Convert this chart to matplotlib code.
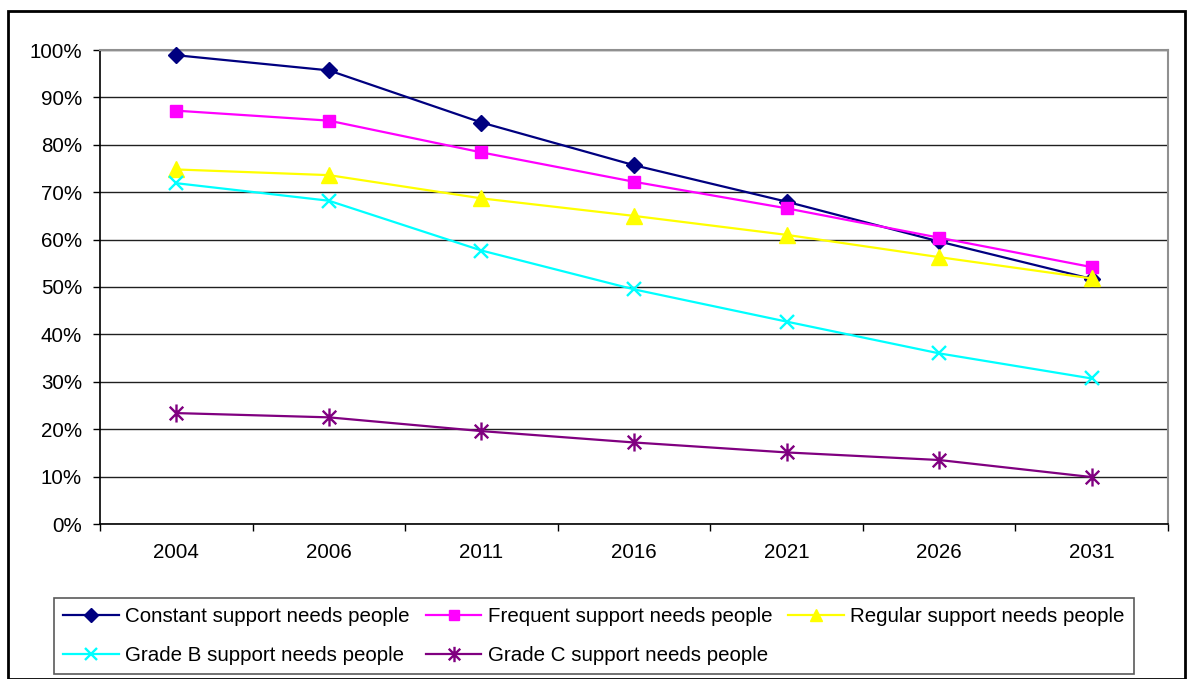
import matplotlib
matplotlib.use("Agg")
import matplotlib.pyplot as plt
from matplotlib.path import Path
from matplotlib.patches import Rectangle
from matplotlib.ticker import FixedLocator, PercentFormatter

plt.rcParams['font.family'] = ['Liberation Sans', 'DejaVu Sans']

years = ["2004", "2006", "2011", "2016", "2021", "2026", "2031"]
constant = [98.9, 95.7, 84.7, 75.7, 68.0, 59.6, 51.7]
frequent = [87.2, 85.1, 78.4, 72.2, 66.6, 60.4, 54.2]
regular = [74.8, 73.6, 68.7, 65.0, 61.0, 56.3, 51.8]
grade_b = [71.9, 68.2, 57.7, 49.5, 42.7, 36.0, 30.7]
grade_c = [23.4, 22.5, 19.6, 17.2, 15.1, 13.5, 9.9]
labels = ["Constant support needs people", "Frequent support needs people",
          "Regular support needs people", "Grade B support needs people",
          "Grade C support needs people"]

star = Path([(0, -1), (0, 1), (-0.75, -0.75), (0.75, 0.75), (-0.75, 0.75), (0.75, -0.75)],
            [Path.MOVETO, Path.LINETO, Path.MOVETO, Path.LINETO, Path.MOVETO, Path.LINETO])

W, H = 1191, 679
fig = plt.figure(figsize=(W / 100, H / 100), dpi=100)
ax = fig.add_axes([100 / W, 1 - 524 / H, (1168 - 100) / W, (524 - 50) / H])

x = list(range(len(years)))
styles = [
    (constant, "#000080", dict(marker="D", markersize=8.5)),
    (frequent, "#FF00FF", dict(marker="s", markersize=9)),
    (regular, "#FFFF00", dict(marker="^", markersize=11)),
    (grade_b, "#00FFFF", dict(marker="x", markersize=10.5, markeredgewidth=1.7)),
    (grade_c, "#800080", dict(marker=star, markersize=13, markeredgewidth=1.7)),
]
handles = []
for (vals, col, mk), lab in zip(styles, labels):
    h, = ax.plot(x, vals, color=col, lw=1.6, markerfacecolor=col,
                 markeredgecolor=col, label=lab, clip_on=False, zorder=3, **mk)
    handles.append(h)

ax.set_xlim(-0.5, len(years) - 0.5)
ax.set_ylim(0, 100)
ax.yaxis.set_major_locator(FixedLocator(range(0, 101, 10)))
ax.yaxis.set_major_formatter(PercentFormatter(decimals=0))
ax.xaxis.set_major_locator(FixedLocator([i - 0.5 for i in range(len(years) + 1)]))
ax.xaxis.set_major_formatter(plt.NullFormatter())
ax.xaxis.set_minor_locator(FixedLocator(x))
ax.set_xticklabels(years, minor=True)
ax.tick_params(axis='x', which='minor', length=0, pad=14, labelsize=14.8)
ax.tick_params(axis='x', which='major', length=5, direction='out', width=1)
ax.tick_params(axis='y', length=5, direction='out', width=1, pad=8, labelsize=14.8)

ax.grid(axis='y', color='#202020', lw=1)
ax.set_axisbelow(True)
for s in ['top', 'right']:
    ax.spines[s].set_color('#909090')
    ax.spines[s].set_linewidth(1.5)
for s in ['left', 'bottom']:
    ax.spines[s].set_color('black')
    ax.spines[s].set_linewidth(1.2)

order = [0, 3, 1, 4, 2]
leg = fig.legend([handles[i] for i in order], [labels[i] for i in order],
                 ncol=3, loc='upper left', bbox_to_anchor=(54 / W, 1 - 598 / H),
                 fontsize=14.8, frameon=True, fancybox=False, edgecolor='#303030',
                 handlelength=2.7, handletextpad=0.3, columnspacing=0.8,
                 labelspacing=0.95, borderpad=0.45, borderaxespad=0, markerscale=0.85)
leg.get_frame().set_linewidth(1.2)

fig.patches.append(Rectangle((8 / W, 0), (1185 - 8) / W, 1 - 11 / H,
                             transform=fig.transFigure, fill=False,
                             edgecolor='black', lw=2))

fig.savefig("out.png", dpi=100)
